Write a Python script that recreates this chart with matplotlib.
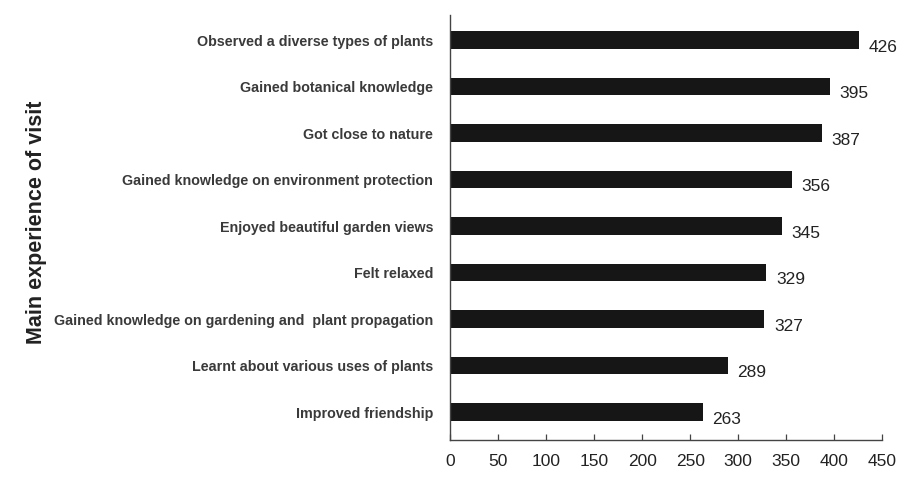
import matplotlib
matplotlib.use("Agg")
from matplotlib import pyplot as plt

# data, bottom to top
experiences = [
    "Improved friendship",
    "Learnt about various uses of plants",
    "Gained knowledge on gardening and  plant propagation",
    "Felt relaxed",
    "Enjoyed beautiful garden views",
    "Gained knowledge on environment protection",
    "Got close to nature",
    "Gained botanical knowledge",
    "Observed a diverse types of plants",
]
counts = [263, 289, 327, 329, 345, 356, 387, 395, 426]
x_ticks = [0, 50, 100, 150, 200, 250, 300, 350, 400, 450]

plt.rcParams["font.family"] = ["Liberation Sans", "DejaVu Sans"]
text_col = "#222222"

fig = plt.figure(figsize=(9.01, 4.83), dpi=100)
ax = fig.add_axes([0.4994, 0.089, 0.4800, 0.880])

pos = list(range(len(counts)))
ax.barh(pos, counts, height=0.38, color="#161616")

for p, v in zip(pos, counts):
    ax.annotate(str(v), (v, p), xytext=(7, -5), textcoords="offset points",
                ha="left", va="center", fontsize=12.5, color=text_col)

ax.set_xlim(0, 450)
ax.set_ylim(-0.6, 8.54)
ax.set_xticks(x_ticks)
ax.set_yticks(pos)
ax.set_yticklabels(experiences, fontsize=10.3, fontweight="bold",
                   color="#3a3a3a")
ax.tick_params(axis="y", length=0, pad=12)
ax.tick_params(axis="x", direction="in", length=4, width=0.9,
               labelsize=12.5, labelcolor=text_col, pad=10, color="#444444")

for s in ["top", "right"]:
    ax.spines[s].set_visible(False)
for s in ["left", "bottom"]:
    ax.spines[s].set_color("#444444")
    ax.spines[s].set_linewidth(1.0)

fig.text(0.041, 0.54, "Main experience of visit", rotation=90,
         ha="center", va="center", fontsize=15.5, fontweight="bold",
         color=text_col)

fig.savefig("out.png", dpi=100)
